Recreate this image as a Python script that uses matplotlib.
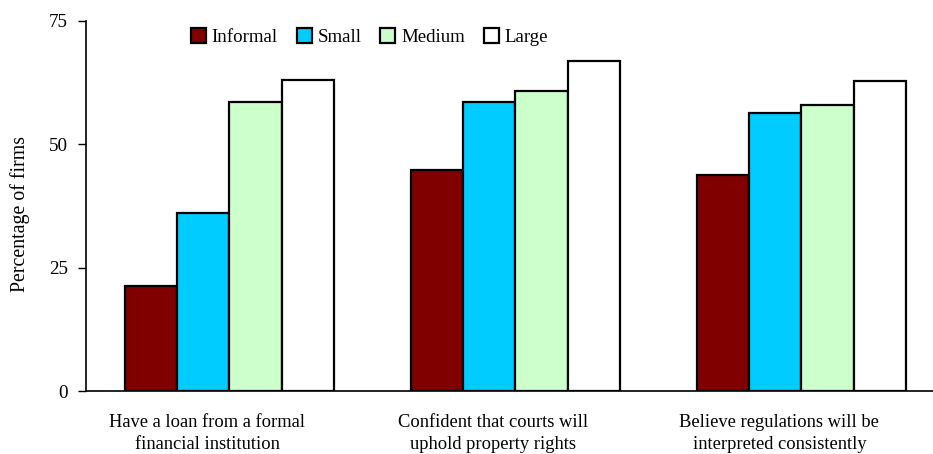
import matplotlib.pyplot as plt
import numpy as np

plt.rcParams['font.family'] = ['Liberation Serif', 'DejaVu Serif']

# Data
categories = ['Have a loan from a formal\nfinancial institution',
              'Confident that courts will\nuphold property rights',
              'Believe regulations will be\ninterpreted consistently']
series_names = ['Informal', 'Small', 'Medium', 'Large']
informal = [21.4, 44.9, 43.9]
small = [36.1, 58.6, 56.4]
medium = [58.5, 60.7, 58.0]
large = [63.0, 66.8, 62.9]
colors = ['#800000', '#00CCFF', '#CCFFCC', '#FFFFFF']

fig = plt.figure(figsize=(9.33, 4.54), dpi=100)
ax = fig.add_axes([0.092, 0.1377, 0.908, 0.8165])

x = np.arange(len(categories))
width = 0.183
for i, (vals, name, c) in enumerate(zip([informal, small, medium, large], series_names, colors)):
    ax.bar(x + (i - 1.5) * width, vals, width, color=c, edgecolor='black',
           linewidth=1.6, label=name)

ax.set_xlim(-0.502, 2.46)
ax.set_ylim(0, 75)
ax.set_yticks([0, 25, 50, 75])
# category labels sit a little left of the bar groups in the original
ax.set_xticks(x - 0.077)
ax.set_xticklabels(categories, fontsize=13.3, linespacing=1.4)
ax.tick_params(axis='x', length=0, pad=16)
ax.tick_params(axis='y', length=6, width=1, labelsize=13.8, pad=7)
ax.set_ylabel('Percentage of firms', fontsize=14.3)
ax.yaxis.set_label_coords(-0.066, 0.48)

for s in ['top', 'right']:
    ax.spines[s].set_visible(False)
for s in ['left', 'bottom']:
    ax.spines[s].set_linewidth(1.2)

ax.legend(loc='center', bbox_to_anchor=(0.396, 0.918), bbox_transform=fig.transFigure,
          ncol=4, frameon=False, fontsize=13.6, handlelength=0.8, handleheight=0.8,
          handletextpad=0.3, columnspacing=1.0)

plt.savefig('out.png', dpi=100)
